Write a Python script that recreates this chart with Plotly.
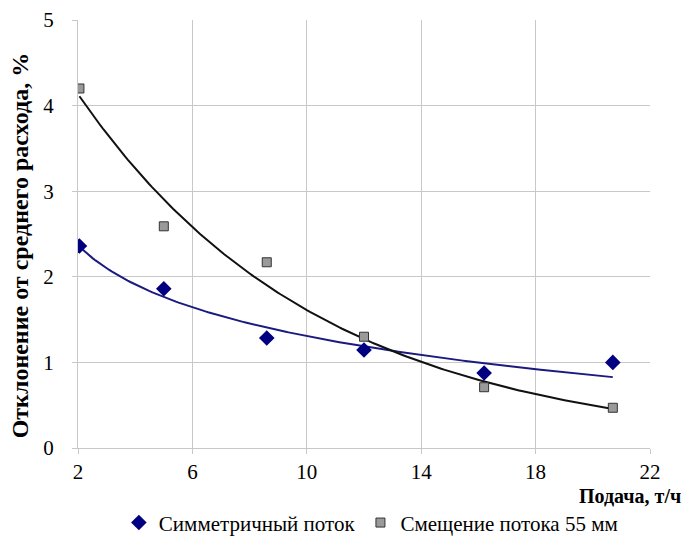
import numpy as np
import plotly.graph_objects as go

feed = [2.05, 5.0, 8.6, 12.0, 16.2, 20.7]
sym = [2.36, 1.86, 1.285, 1.145, 0.876, 1.0]
shift = [4.2, 2.59, 2.17, 1.30, 0.71, 0.47]
xticks = [2, 6, 10, 14, 18, 22]
yticks = [0, 1, 2, 3, 4, 5]

fx = np.array(feed)
xs = np.linspace(fx.min(), fx.max(), 200)
# logarithmic trend for symmetric flow
b, a = np.polyfit(np.log(fx), np.array(sym), 1)
y_sym = a + b * np.log(xs)
# exponential trend for shifted flow
k, c = np.polyfit(fx, np.log(shift), 1)
y_shift = np.exp(c) * np.exp(k * xs)

font = "Liberation Serif, Times New Roman, serif"
fig = go.Figure()
fig.add_trace(go.Scatter(x=xs, y=y_sym, mode="lines", line=dict(color="#1a1a80", width=2), showlegend=False, hoverinfo="skip"))
fig.add_trace(go.Scatter(x=xs, y=y_shift, mode="lines", line=dict(color="#111111", width=2), showlegend=False, hoverinfo="skip"))
fig.add_trace(go.Scatter(x=feed, y=sym, mode="markers", name="Симметричный поток",
                         marker=dict(symbol="diamond", size=12, color="#000080", line=dict(width=0))))
fig.add_trace(go.Scatter(x=feed, y=shift, mode="markers", name="Смещение потока 55 мм",
                         marker=dict(symbol="square", size=9, color="#9a9a9a", line=dict(color="#333333", width=1))))

fig.update_layout(
    width=686, height=541,
    margin=dict(l=78, r=36, t=20, b=93, autoexpand=False),
    plot_bgcolor="white", paper_bgcolor="white",
    font=dict(family=font, color="black"),
    xaxis=dict(range=[2, 22], tickvals=xticks, showgrid=True, gridcolor="#c8c8c8", gridwidth=1,
               zeroline=False, showline=True, linecolor="#c8c8c8", ticks="outside", ticklen=5,
               tickcolor="#c8c8c8", tickfont=dict(size=21, family=font)),
    yaxis=dict(range=[0, 5], tickvals=yticks, showgrid=True, gridcolor="#c8c8c8", gridwidth=1,
               zeroline=False, showline=True, linecolor="#c8c8c8", ticks="outside", ticklen=5,
               tickcolor="#c8c8c8", tickfont=dict(size=21, family=font), ticklabelstandoff=14),
    legend=dict(orientation="h", x=0.512, xanchor="center", y=-0.175, yanchor="middle",
                font=dict(size=21, family=font), itemwidth=30, tracegroupgap=0),
    annotations=[
        dict(text="<b>Подача, т/ч</b>", xref="paper", yref="paper", x=1.058, y=-0.113,
             xanchor="right", yanchor="middle", showarrow=False, font=dict(size=20, family=font)),
        dict(text="<b>Отклонение от среднего расхода, %</b>", xref="paper", yref="paper", x=-0.101, y=0.474,
             xanchor="center", yanchor="middle", textangle=-90, showarrow=False, font=dict(size=24, family=font)),
    ],
)
fig.write_html("out.html")
